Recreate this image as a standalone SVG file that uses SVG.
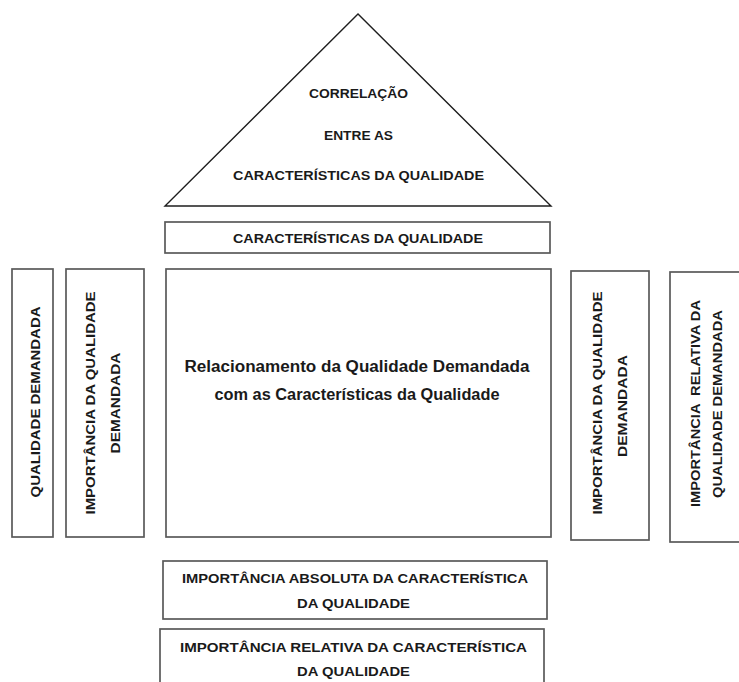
<svg xmlns="http://www.w3.org/2000/svg" width="739" height="682" viewBox="0 0 739 682">
  <style>
    .box { fill: #ffffff; stroke: #5a5a5a; stroke-width: 1.7; }
    .roof { fill: #ffffff; stroke: #1e1e1e; stroke-width: 1.4; stroke-linejoin: miter; }
    .lbl { font-family: "Liberation Sans", Arial, sans-serif; font-weight: bold; font-size: 13.5px; fill: #1a1a1a; text-anchor: middle; }
    .big { font-size: 16px; }
  </style>
  <rect width="739" height="682" fill="#ffffff"/>

  <!-- roof: correlation matrix -->
  <g id="roof">
    <polygon class="roof" points="358,14 165,206 551,206"/>
    <text class="lbl" x="358.5" y="98" textLength="99" lengthAdjust="spacingAndGlyphs">CORRELAÇÃO</text>
    <text class="lbl" x="358.5" y="140" textLength="69" lengthAdjust="spacingAndGlyphs">ENTRE AS</text>
    <text class="lbl" x="358.5" y="180" textLength="251" lengthAdjust="spacingAndGlyphs">CARACTERÍSTICAS DA QUALIDADE</text>
  </g>

  <!-- quality characteristics header -->
  <g id="caracteristicas">
    <rect class="box" x="165" y="222" width="385" height="31"/>
    <text class="lbl" x="358" y="242.5" textLength="250" lengthAdjust="spacingAndGlyphs">CARACTERÍSTICAS DA QUALIDADE</text>
  </g>

  <!-- demanded quality (left wall) -->
  <g id="qualidade-demandada">
    <rect class="box" x="12" y="269" width="41" height="268"/>
    <g transform="translate(35,402) rotate(-90)">
      <text class="lbl" x="0" y="4.8" textLength="191" lengthAdjust="spacingAndGlyphs">QUALIDADE DEMANDADA</text>
    </g>
  </g>

  <g id="importancia-qd-esq">
    <rect class="box" x="66" y="269" width="78" height="268"/>
    <g transform="translate(90,403) rotate(-90)">
      <text class="lbl" x="0" y="4.8" textLength="223" lengthAdjust="spacingAndGlyphs">IMPORTÂNCIA DA QUALIDADE</text>
    </g>
    <g transform="translate(115,403) rotate(-90)">
      <text class="lbl" x="0" y="4.8" textLength="101" lengthAdjust="spacingAndGlyphs">DEMANDADA</text>
    </g>
  </g>

  <!-- relationship matrix -->
  <g id="relacionamento">
    <rect class="box" x="166" y="269" width="385" height="268"/>
    <text class="lbl big" x="357" y="372" textLength="345" lengthAdjust="spacingAndGlyphs">Relacionamento da Qualidade Demandada</text>
    <text class="lbl big" x="357" y="400" textLength="285" lengthAdjust="spacingAndGlyphs">com as Características da Qualidade</text>
  </g>

  <!-- right wall -->
  <g id="importancia-qd-dir">
    <rect class="box" x="571" y="271" width="78" height="269"/>
    <g transform="translate(597,403) rotate(-90)">
      <text class="lbl" x="0" y="4.8" textLength="223" lengthAdjust="spacingAndGlyphs">IMPORTÂNCIA DA QUALIDADE</text>
    </g>
    <g transform="translate(622,406) rotate(-90)">
      <text class="lbl" x="0" y="4.8" textLength="102" lengthAdjust="spacingAndGlyphs">DEMANDADA</text>
    </g>
  </g>

  <g id="importancia-relativa-qd">
    <rect class="box" x="670" y="272" width="90" height="270"/>
    <g transform="translate(695,403.5) rotate(-90)">
      <text class="lbl" x="0" y="4.8" textLength="207" lengthAdjust="spacingAndGlyphs" xml:space="preserve">IMPORTÂNCIA  RELATIVA DA</text>
    </g>
    <g transform="translate(717,404) rotate(-90)">
      <text class="lbl" x="0" y="4.8" textLength="188" lengthAdjust="spacingAndGlyphs">QUALIDADE DEMANDADA</text>
    </g>
  </g>

  <!-- basement rows -->
  <g id="importancia-absoluta-cq">
    <rect class="box" x="163" y="561" width="384" height="58"/>
    <text class="lbl" x="355" y="583" textLength="346" lengthAdjust="spacingAndGlyphs">IMPORTÂNCIA ABSOLUTA DA CARACTERÍSTICA</text>
    <text class="lbl" x="353.5" y="608" textLength="113" lengthAdjust="spacingAndGlyphs">DA QUALIDADE</text>
  </g>

  <g id="importancia-relativa-cq">
    <rect class="box" x="160" y="629" width="384" height="70"/>
    <text class="lbl" x="353.5" y="652" textLength="347" lengthAdjust="spacingAndGlyphs">IMPORTÂNCIA RELATIVA DA CARACTERÍSTICA</text>
    <text class="lbl" x="353.5" y="676" textLength="113" lengthAdjust="spacingAndGlyphs">DA QUALIDADE</text>
  </g>

  <!-- no connectors in this diagram -->
  <g id="connectors"/>
</svg>
